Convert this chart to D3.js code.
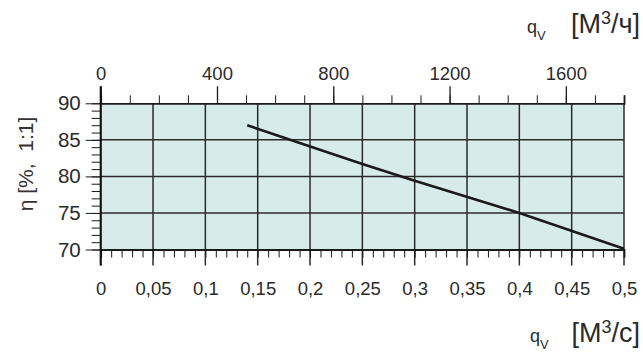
<!DOCTYPE html>
<html>
<head>
<meta charset="utf-8">
<script src="https://cdn.jsdelivr.net/npm/d3@7"></script>
<style>
  body { margin: 0; background: #fff; }
  svg { display: block; font-family: "Liberation Sans", Arial, sans-serif; }
  .tick text { fill: #2a2a2a; }
  .axis path, .axis line { stroke: #1a1a1a; }
  .grid { stroke: #2a2a2a; stroke-width: 1.5; }
</style>
</head>
<body>
<svg id="chart"></svg>
<script>
  // efficiency curve
  const flowValues = [0.14, 0.25, 0.3, 0.4, 0.5]; // m3/s
  const etaValues = [87, 81.7, 79.4, 75, 70.1]; // %

  const flowTicks = [0, 0.05, 0.1, 0.15, 0.2, 0.25, 0.3, 0.35, 0.4, 0.45, 0.5];
  const hourTicks = [0, 400, 800, 1200, 1600];
  const etaTicks = [70, 75, 80, 85, 90];

  const width = 643;
  const height = 353;
  const plot = { left: 100.7, right: 624, top: 103.3, bottom: 249.5 };

  const ru = d3.formatLocale({ decimal: ",", thousands: "", grouping: [3], currency: ["", ""] });
  const fmtFlow = ru.format(".2~f");

  const svg = d3.select("#chart").attr("width", width).attr("height", height);

  const x = d3.scaleLinear().domain([0, 0.5]).range([plot.left, plot.right]);
  const xh = d3.scaleLinear().domain([0, 1800]).range([plot.left, plot.right]);
  const y = d3.scaleLinear().domain([70, 90]).range([plot.bottom, plot.top]);

  // plot background
  svg.append("rect")
    .attr("x", plot.left)
    .attr("y", plot.top)
    .attr("width", plot.right - plot.left)
    .attr("height", plot.bottom - plot.top)
    .attr("fill", "#d7ecea");

  // grid lines (vertical ones run past the bottom edge as major ticks)
  const grid = svg.append("g");
  grid.selectAll(".vgrid")
    .data(flowTicks)
    .enter()
    .append("line")
    .attr("class", "grid")
    .attr("x1", (d) => x(d))
    .attr("x2", (d) => x(d))
    .attr("y1", plot.top)
    .attr("y2", plot.bottom + 16);

  grid.selectAll(".hgrid")
    .data(etaTicks.slice(1, -1))
    .enter()
    .append("line")
    .attr("class", "grid")
    .attr("x1", plot.left)
    .attr("x2", plot.right)
    .attr("y1", (d) => y(d))
    .attr("y2", (d) => y(d));

  // bottom axis: minor ticks + labels
  svg.append("g")
    .attr("class", "axis")
    .attr("transform", `translate(0,${plot.bottom})`)
    .call(d3.axisBottom(x).ticks(50).tickSize(8).tickFormat(""))
    .call((g) => g.select(".domain").attr("stroke-width", 1.8));

  svg.append("g")
    .attr("transform", `translate(0,${plot.bottom})`)
    .call(d3.axisBottom(x).tickValues(flowTicks).tickSize(16).tickPadding(16).tickFormat(fmtFlow))
    .call((g) => g.select(".domain").remove())
    .call((g) => g.selectAll(".tick line").remove())
    .call((g) => g.selectAll(".tick text").attr("font-size", 18.5));

  // top axis in m3/h
  svg.append("g")
    .attr("class", "axis")
    .attr("transform", `translate(0,${plot.top})`)
    .call(d3.axisTop(xh).ticks(18).tickSize(8).tickFormat(""))
    .call((g) => g.select(".domain").attr("stroke-width", 1.8));

  svg.append("g")
    .attr("class", "axis")
    .attr("transform", `translate(0,${plot.top})`)
    .call(d3.axisTop(xh).tickValues(hourTicks).tickSize(17).tickPadding(6).tickFormat(d3.format("d")))
    .call((g) => g.select(".domain").remove())
    .call((g) => g.selectAll(".tick line").attr("stroke-width", 1.3))
    .call((g) => g.selectAll(".tick text").attr("font-size", 18.5));

  // left axis
  svg.append("g")
    .attr("class", "axis")
    .attr("transform", `translate(${plot.left},0)`)
    .call(d3.axisLeft(y).ticks(20).tickSize(9).tickFormat(""))
    .call((g) => g.select(".domain").remove());

  svg.append("g")
    .attr("class", "axis")
    .attr("transform", `translate(${plot.left},0)`)
    .call(d3.axisLeft(y).tickValues(etaTicks).tickSize(15).tickPadding(5))
    .call((g) => g.select(".domain").remove())
    .call((g) => g.selectAll(".tick text").attr("font-size", 20.5));

  // left axis line, extended above and below the frame
  svg.append("line")
    .attr("x1", plot.left)
    .attr("x2", plot.left)
    .attr("y1", plot.top - 17)
    .attr("y2", plot.bottom + 16)
    .attr("stroke", "#111")
    .attr("stroke-width", 2);

  // curve
  const line = d3.line()
    .x((d, i) => x(flowValues[i]))
    .y((d) => y(d));
  svg.append("path")
    .datum(etaValues)
    .attr("d", line)
    .attr("fill", "none")
    .attr("stroke", "#1a1a1a")
    .attr("stroke-width", 2.6);

  // axis titles
  function unitTitle(qx, ty, unit) {
    const q = svg.append("text")
      .attr("x", qx)
      .attr("y", ty)
      .attr("fill", "#2a2a2a")
      .attr("font-size", 18);
    q.append("tspan").text("q");
    q.append("tspan").attr("font-size", 13).attr("dy", 7).text("V");

    const u = svg.append("text")
      .attr("x", 640)
      .attr("y", ty)
      .attr("text-anchor", "end")
      .attr("fill", "#2a2a2a")
      .attr("font-size", 27);
    u.append("tspan").text("[М");
    u.append("tspan").attr("font-size", 18).attr("dy", -9).text("3");
    u.append("tspan").attr("dy", 9).text("/" + unit + "]");
  }
  unitTitle(527, 33, "ч");
  unitTitle(530, 342, "с");

  svg.append("text")
    .attr("transform", `translate(33,164) rotate(-90)`)
    .attr("text-anchor", "middle")
    .attr("fill", "#333")
    .attr("font-size", 21)
    .attr("xml:space", "preserve")
    .text("η [%,  1:1]");
</script>
</body>
</html>
